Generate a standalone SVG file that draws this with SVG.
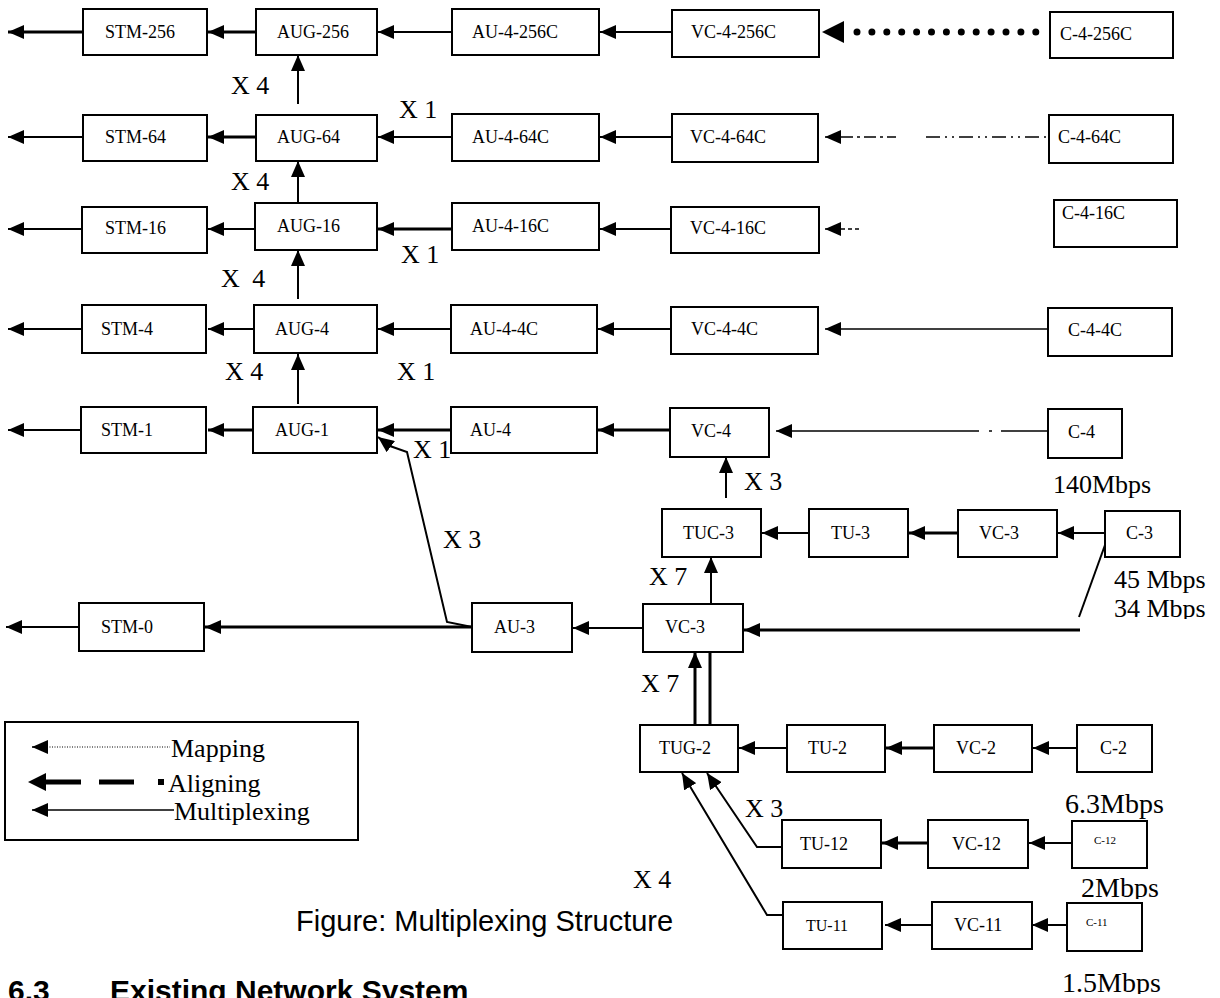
<svg xmlns="http://www.w3.org/2000/svg" width="1220" height="998" viewBox="0 0 1220 998">
  <style>
    .box { fill: #fff; stroke: #000; stroke-width: 2; }
    .lbl { font-family: "Liberation Serif", "Times New Roman", serif; font-size: 18px; fill: #000; }
    .tiny { font-family: "Liberation Serif", "Times New Roman", serif; font-size: 11px; fill: #000; }
    .mux { font-family: "Liberation Serif", "Times New Roman", serif; font-size: 26px; fill: #000; }
    .rate { font-family: "Liberation Serif", "Times New Roman", serif; font-size: 26px; fill: #000; }
    .rate2 { font-family: "Liberation Serif", "Times New Roman", serif; font-size: 28px; fill: #000; }
    .leg { font-family: "Liberation Serif", "Times New Roman", serif; font-size: 26px; fill: #000; }
    .cap { font-family: "Liberation Sans", Arial, sans-serif; font-size: 29px; fill: #000; }
    .head { font-family: "Liberation Sans", Arial, sans-serif; font-size: 30px; font-weight: bold; fill: #000; }
    .ln { fill: none; stroke: #000; stroke-width: 2; }
    .thk { fill: none; stroke: #000; stroke-width: 3; }
    .thin { fill: none; stroke: #000; stroke-width: 1.5; }
  </style>
  <defs>
    <marker id="ah" markerUnits="userSpaceOnUse" markerWidth="16" markerHeight="14" refX="16" refY="7" orient="auto">
      <path d="M0,0 L16,7 L0,14 z" fill="#000"/>
    </marker>
    <clipPath id="clip34"><rect x="1100" y="560" width="120" height="59"/></clipPath>
    <clipPath id="clip2"><rect x="1070" y="860" width="120" height="39"/></clipPath>
    <clipPath id="clip15"><rect x="1050" y="955" width="140" height="39"/></clipPath>
  </defs>
  <rect width="1220" height="998" fill="#fff"/>

  <!-- connectors -->
  <g id="connectors">
    <!-- row STM-256 -->
    <line class="thk" x1="83" y1="32" x2="8" y2="32" marker-end="url(#ah)"/>
    <line class="thk" x1="256" y1="32" x2="208" y2="32" marker-end="url(#ah)"/>
    <line class="ln" x1="452" y1="32" x2="378" y2="32" marker-end="url(#ah)"/>
    <line class="ln" x1="672" y1="32" x2="600" y2="32" marker-end="url(#ah)"/>
    <polygon points="822,32 844,21 844,43" fill="#000"/>
    <line x1="857" y1="32" x2="1036" y2="32" stroke="#000" stroke-width="7" stroke-linecap="round" stroke-dasharray="0 14.9"/>
    <!-- row STM-64 -->
    <line class="ln" x1="82" y1="137" x2="8" y2="137" marker-end="url(#ah)"/>
    <line class="thk" x1="256" y1="137" x2="208" y2="137" marker-end="url(#ah)"/>
    <line class="ln" x1="452" y1="137" x2="378" y2="137" marker-end="url(#ah)"/>
    <line class="ln" x1="672" y1="137" x2="600" y2="137" marker-end="url(#ah)"/>
    <line class="thin" x1="841" y1="137" x2="825" y2="137" marker-end="url(#ah)"/>
    <line class="thin" x1="841" y1="137" x2="896" y2="137" stroke-dasharray="12 4 3 4"/>
    <line class="thin" x1="926" y1="137" x2="1049" y2="137" stroke-dasharray="14 5 2 5 2 5"/>
    <!-- row STM-16 -->
    <line class="ln" x1="82" y1="229" x2="8" y2="229" marker-end="url(#ah)"/>
    <line class="ln" x1="255" y1="229" x2="208" y2="229" marker-end="url(#ah)"/>
    <line class="thk" x1="452" y1="229" x2="378" y2="229" marker-end="url(#ah)"/>
    <line class="ln" x1="671" y1="229" x2="600" y2="229" marker-end="url(#ah)"/>
    <line class="thin" x1="841" y1="229" x2="825" y2="229" marker-end="url(#ah)"/>
    <line class="thin" x1="841" y1="229" x2="862" y2="229" stroke-dasharray="4 3"/>
    <!-- row STM-4 -->
    <line class="ln" x1="82" y1="329" x2="8" y2="329" marker-end="url(#ah)"/>
    <line class="ln" x1="254" y1="329" x2="208" y2="329" marker-end="url(#ah)"/>
    <line class="ln" x1="451" y1="329" x2="378" y2="329" marker-end="url(#ah)"/>
    <line class="ln" x1="671" y1="329" x2="598" y2="329" marker-end="url(#ah)"/>
    <line class="thin" x1="1048" y1="329" x2="825" y2="329" marker-end="url(#ah)"/>
    <!-- row STM-1 -->
    <line class="ln" x1="81" y1="430" x2="8" y2="430" marker-end="url(#ah)"/>
    <line class="thk" x1="253" y1="430" x2="208" y2="430" marker-end="url(#ah)"/>
    <line class="thk" x1="451" y1="430" x2="378" y2="430" marker-end="url(#ah)"/>
    <line class="thk" x1="670" y1="430" x2="598" y2="430" marker-end="url(#ah)"/>
    <line class="thin" x1="792" y1="431" x2="776" y2="431" marker-end="url(#ah)"/>
    <line class="thin" x1="792" y1="431" x2="979" y2="431"/>
    <line class="thin" x1="989" y1="431" x2="992" y2="431"/>
    <line class="thin" x1="1001" y1="431" x2="1048" y2="431"/>
    <!-- AUG stacking -->
    <line class="ln" x1="298" y1="104" x2="298" y2="55" marker-end="url(#ah)"/>
    <line class="ln" x1="298" y1="203" x2="298" y2="161" marker-end="url(#ah)"/>
    <line class="ln" x1="298" y1="299" x2="298" y2="250" marker-end="url(#ah)"/>
    <line class="ln" x1="298" y1="404" x2="298" y2="354" marker-end="url(#ah)"/>
    <!-- AU-3 into AUG-1 -->
    <polyline class="ln" points="472,627 447,622 407,452 390,446 378,437" marker-end="url(#ah)"/>
    <!-- TUC-3 row -->
    <line class="ln" x1="726" y1="498" x2="726" y2="457" marker-end="url(#ah)"/>
    <line class="ln" x1="809" y1="533" x2="762" y2="533" marker-end="url(#ah)"/>
    <line class="thk" x1="958" y1="533" x2="909" y2="533" marker-end="url(#ah)"/>
    <line class="ln" x1="1105" y1="533" x2="1058" y2="533" marker-end="url(#ah)"/>
    <line class="ln" x1="1105" y1="545" x2="1079" y2="617"/>
    <line class="ln" x1="711" y1="604" x2="711" y2="557" marker-end="url(#ah)"/>
    <!-- STM-0 row -->
    <line class="ln" x1="79" y1="627" x2="6" y2="627" marker-end="url(#ah)"/>
    <line class="thk" x1="472" y1="627" x2="205" y2="627" marker-end="url(#ah)"/>
    <line class="ln" x1="643" y1="628" x2="573" y2="628" marker-end="url(#ah)"/>
    <line class="thk" x1="1080" y1="630" x2="744" y2="630" marker-end="url(#ah)"/>
    <!-- TUG-2 into VC-3 -->
    <line class="thk" x1="695" y1="725" x2="695" y2="652" marker-end="url(#ah)"/>
    <line class="thk" x1="710" y1="725" x2="710" y2="652"/>
    <!-- TUG-2 row -->
    <line class="ln" x1="787" y1="748" x2="739" y2="748" marker-end="url(#ah)"/>
    <line class="thk" x1="934" y1="748" x2="886" y2="748" marker-end="url(#ah)"/>
    <line class="ln" x1="1077" y1="748" x2="1033" y2="748" marker-end="url(#ah)"/>
    <!-- TU-12 row -->
    <line class="thk" x1="928" y1="843" x2="882" y2="843" marker-end="url(#ah)"/>
    <line class="ln" x1="1072" y1="843" x2="1029" y2="843" marker-end="url(#ah)"/>
    <polyline class="ln" points="782,847 757,847 707,773" marker-end="url(#ah)"/>
    <!-- TU-11 row -->
    <line class="ln" x1="932" y1="925" x2="885" y2="925" marker-end="url(#ah)"/>
    <line class="ln" x1="1067" y1="925" x2="1032" y2="925" marker-end="url(#ah)"/>
    <polyline class="ln" points="783,915 767,915 682,773" marker-end="url(#ah)"/>
  </g>

  <!-- row STM-256 -->
  <g id="stm256"><rect class="box" x="83" y="9" width="124" height="46"/><text class="lbl" x="105" y="38">STM-256</text></g>
  <g id="aug256"><rect class="box" x="256" y="9" width="121" height="46"/><text class="lbl" x="277" y="38">AUG-256</text></g>
  <g id="au4-256c"><rect class="box" x="452" y="9" width="147" height="46"/><text class="lbl" x="472" y="38">AU-4-256C</text></g>
  <g id="vc4-256c"><rect class="box" x="672" y="10" width="147" height="47"/><text class="lbl" x="691" y="38">VC-4-256C</text></g>
  <g id="c4-256c"><rect class="box" x="1050" y="12" width="123" height="46"/><text class="lbl" x="1060" y="40">C-4-256C</text></g>

  <!-- row STM-64 -->
  <g id="stm64"><rect class="box" x="83" y="115" width="124" height="46"/><text class="lbl" x="105" y="143">STM-64</text></g>
  <g id="aug64"><rect class="box" x="256" y="115" width="121" height="46"/><text class="lbl" x="277" y="143">AUG-64</text></g>
  <g id="au4-64c"><rect class="box" x="452" y="114" width="147" height="47"/><text class="lbl" x="472" y="143">AU-4-64C</text></g>
  <g id="vc4-64c"><rect class="box" x="672" y="114" width="146" height="48"/><text class="lbl" x="690" y="143">VC-4-64C</text></g>
  <g id="c4-64c"><rect class="box" x="1049" y="115" width="124" height="48"/><text class="lbl" x="1058" y="143">C-4-64C</text></g>

  <!-- row STM-16 -->
  <g id="stm16"><rect class="box" x="82" y="207" width="125" height="46"/><text class="lbl" x="105" y="234">STM-16</text></g>
  <g id="aug16"><rect class="box" x="255" y="203" width="122" height="47"/><text class="lbl" x="277" y="232">AUG-16</text></g>
  <g id="au4-16c"><rect class="box" x="452" y="203" width="147" height="47"/><text class="lbl" x="472" y="232">AU-4-16C</text></g>
  <g id="vc4-16c"><rect class="box" x="671" y="207" width="148" height="46"/><text class="lbl" x="690" y="234">VC-4-16C</text></g>
  <g id="c4-16c"><rect class="box" x="1054" y="200" width="123" height="47"/><text class="lbl" x="1062" y="219">C-4-16C</text></g>

  <!-- row STM-4 -->
  <g id="stm4"><rect class="box" x="82" y="305" width="124" height="48"/><text class="lbl" x="101" y="335">STM-4</text></g>
  <g id="aug4"><rect class="box" x="254" y="305" width="123" height="48"/><text class="lbl" x="275" y="335">AUG-4</text></g>
  <g id="au4-4c"><rect class="box" x="451" y="305" width="146" height="48"/><text class="lbl" x="470" y="335">AU-4-4C</text></g>
  <g id="vc4-4c"><rect class="box" x="671" y="307" width="147" height="47"/><text class="lbl" x="691" y="335">VC-4-4C</text></g>
  <g id="c4-4c"><rect class="box" x="1048" y="308" width="124" height="48"/><text class="lbl" x="1068" y="336">C-4-4C</text></g>

  <!-- row STM-1 -->
  <g id="stm1"><rect class="box" x="81" y="407" width="125" height="46"/><text class="lbl" x="101" y="436">STM-1</text></g>
  <g id="aug1"><rect class="box" x="253" y="407" width="124" height="46"/><text class="lbl" x="275" y="436">AUG-1</text></g>
  <g id="au4"><rect class="box" x="451" y="407" width="146" height="46"/><text class="lbl" x="470" y="436">AU-4</text></g>
  <g id="vc4"><rect class="box" x="670" y="408" width="99" height="49"/><text class="lbl" x="691" y="437">VC-4</text></g>
  <g id="c4"><rect class="box" x="1048" y="409" width="74" height="49"/><text class="lbl" x="1068" y="438">C-4</text></g>

  <!-- TUC-3 row -->
  <g id="tuc3"><rect class="box" x="662" y="509" width="99" height="48"/><text class="lbl" x="683" y="539">TUC-3</text></g>
  <g id="tu3"><rect class="box" x="809" y="509" width="99" height="48"/><text class="lbl" x="831" y="539">TU-3</text></g>
  <g id="vc3a"><rect class="box" x="958" y="510" width="99" height="47"/><text class="lbl" x="979" y="539">VC-3</text></g>
  <g id="c3"><rect class="box" x="1105" y="511" width="75" height="46"/><text class="lbl" x="1126" y="539">C-3</text></g>

  <!-- STM-0 row -->
  <g id="stm0"><rect class="box" x="79" y="603" width="125" height="48"/><text class="lbl" x="101" y="633">STM-0</text></g>
  <g id="au3"><rect class="box" x="472" y="603" width="100" height="49"/><text class="lbl" x="494" y="633">AU-3</text></g>
  <g id="vc3b"><rect class="box" x="643" y="604" width="100" height="48"/><text class="lbl" x="665" y="633">VC-3</text></g>

  <!-- TUG-2 row -->
  <g id="tug2"><rect class="box" x="640" y="725" width="98" height="47"/><text class="lbl" x="659" y="754">TUG-2</text></g>
  <g id="tu2"><rect class="box" x="787" y="725" width="98" height="47"/><text class="lbl" x="808" y="754">TU-2</text></g>
  <g id="vc2"><rect class="box" x="934" y="725" width="98" height="47"/><text class="lbl" x="956" y="754">VC-2</text></g>
  <g id="c2"><rect class="box" x="1077" y="725" width="75" height="47"/><text class="lbl" x="1100" y="754">C-2</text></g>

  <!-- TU-12 row -->
  <g id="tu12"><rect class="box" x="782" y="820" width="99" height="48"/><text class="lbl" x="800" y="850">TU-12</text></g>
  <g id="vc12"><rect class="box" x="928" y="820" width="100" height="48"/><text class="lbl" x="952" y="850">VC-12</text></g>
  <g id="c12"><rect class="box" x="1072" y="821" width="75" height="47"/><text class="tiny" x="1094" y="844">C-12</text></g>

  <!-- TU-11 row -->
  <g id="tu11"><rect class="box" x="783" y="902" width="99" height="47"/><text class="lbl" x="806" y="931" style="font-size:16px">TU-11</text></g>
  <g id="vc11"><rect class="box" x="932" y="902" width="100" height="47"/><text class="lbl" x="954" y="931">VC-11</text></g>
  <g id="c11"><rect class="box" x="1067" y="903" width="75" height="48"/><text class="tiny" x="1086" y="926">C-11</text></g>

  <!-- multiplexing factors -->
  <g id="factors">
    <text class="mux" x="231" y="94">X 4</text>
    <text class="mux" x="399" y="118">X 1</text>
    <text class="mux" x="231" y="190">X 4</text>
    <text class="mux" x="401" y="263">X 1</text>
    <text class="mux" x="221" y="287" word-spacing="6">X 4</text>
    <text class="mux" x="225" y="380">X 4</text>
    <text class="mux" x="397" y="380">X 1</text>
    <text class="mux" x="413" y="458">X 1</text>
    <text class="mux" x="744" y="490">X 3</text>
    <text class="mux" x="443" y="548">X 3</text>
    <text class="mux" x="649" y="585">X 7</text>
    <text class="mux" x="641" y="692">X 7</text>
    <text class="mux" x="745" y="817">X 3</text>
    <text class="mux" x="633" y="888">X 4</text>
  </g>

  <!-- bit rates -->
  <g id="rates">
    <text class="rate" x="1053" y="493">140Mbps</text>
    <text class="rate" x="1114" y="588">45 Mbps</text>
    <text class="rate" x="1114" y="617" clip-path="url(#clip34)">34 Mbps</text>
    <text class="rate2" x="1065" y="813">6.3Mbps</text>
    <text class="rate2" x="1081" y="897" clip-path="url(#clip2)">2Mbps</text>
    <text class="rate2" x="1062" y="992" clip-path="url(#clip15)">1.5Mbps</text>
  </g>

  <!-- legend -->
  <g id="legend">
    <rect x="5" y="722" width="353" height="118" fill="none" stroke="#000" stroke-width="2"/>
    <line x1="47" y1="747" x2="32" y2="747" class="thin" marker-end="url(#ah)"/>
    <line x1="47" y1="747" x2="170" y2="747" stroke="#000" stroke-width="1" stroke-dasharray="1 1.5"/>
    <text class="leg" x="171" y="757">Mapping</text>
    <polygon points="28,782 46,773 46,791" fill="#000"/>
    <line x1="44" y1="782" x2="81" y2="782" stroke="#000" stroke-width="5"/>
    <line x1="99" y1="782" x2="134" y2="782" stroke="#000" stroke-width="5"/>
    <rect x="158" y="779" width="6" height="6" fill="#000"/>
    <text class="leg" x="168" y="792">Aligning</text>
    <line x1="174" y1="810" x2="32" y2="810" class="thin" marker-end="url(#ah)"/>
    <text class="leg" x="174" y="820">Multiplexing</text>
  </g>

  <!-- caption and heading -->
  <text id="caption" class="cap" x="296" y="931">Figure: Multiplexing Structure</text>
  <g id="heading">
    <text class="head" x="8" y="1001">6.3</text>
    <text class="head" x="110" y="1001">Existing Network System</text>
  </g>
</svg>
